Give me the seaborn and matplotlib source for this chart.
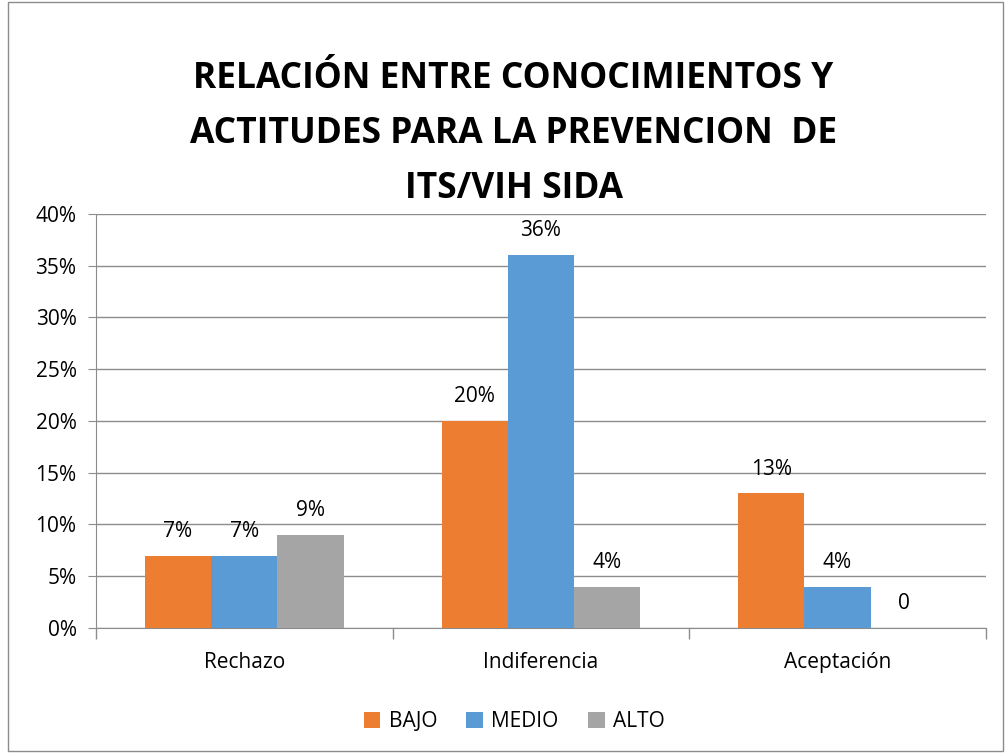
import matplotlib.pyplot as plt
import pandas as pd
import seaborn as sns
from matplotlib.patches import Rectangle
from matplotlib.ticker import FixedLocator

categories = ["Rechazo", "Indiferencia", "Aceptación"]
levels = ["BAJO", "MEDIO", "ALTO"]
bajo = [7, 20, 13]
medio = [7, 36, 4]
alto = [9, 4, 0]
bar_labels = {
    "BAJO": ["7%", "20%", "13%"],
    "MEDIO": ["7%", "36%", "4%"],
    "ALTO": ["9%", "4%", "0"],
}
colors = ["#ED7D31", "#5B9BD5", "#A5A5A5"]

df = pd.DataFrame({
    "categoria": categories * 3,
    "nivel": [l for l in levels for _ in categories],
    "valor": bajo + medio + alto,
})

sns.set_style("white")
plt.rcParams["font.family"] = ["Open Sans", "DejaVu Sans"]
plt.rcParams["text.color"] = "black"
plt.rcParams["xtick.color"] = "black"
plt.rcParams["ytick.color"] = "black"

fig = plt.figure(figsize=(10.07, 7.53), dpi=100)
ax = fig.add_axes([0.0953, 0.166, 0.979 - 0.0953, 0.716 - 0.166])

sns.barplot(data=df, x="categoria", y="valor", hue="nivel", order=categories,
            hue_order=levels, palette=colors, width=0.67, saturation=1,
            linewidth=0, ax=ax, zorder=3)

# value labels above each bar
for cont, lvl in zip(ax.containers, levels):
    ax.bar_label(cont, labels=bar_labels[lvl], padding=10, fontsize=15,
                 color="black")

ax.set_ylim(0, 40)
ax.set_xlim(-0.5, 2.5)
ax.set_yticks(range(0, 41, 5))
ax.set_yticklabels([f"{v}%" for v in range(0, 41, 5)], fontsize=15)
ax.yaxis.grid(True, color="#8c8c8c", linewidth=1)
ax.set_axisbelow(True)
ax.tick_params(axis="y", left=True, length=6, color="#8c8c8c", pad=8,
               labelcolor="black")
ax.tick_params(axis="x", which="major", length=0, labelsize=15, pad=17,
               labelcolor="black")
# category separators below the axis
ax.xaxis.set_minor_locator(FixedLocator([-0.5, 0.5, 1.5, 2.5]))
ax.tick_params(axis="x", which="minor", bottom=True, length=8,
               color="#8c8c8c", width=1)
ax.set_xlabel("")
ax.set_ylabel("")
sns.despine(ax=ax, top=True, right=True)
for side in ["left", "bottom"]:
    ax.spines[side].set_color("#8c8c8c")

ax.legend(loc="upper center", bbox_to_anchor=(0.47, -0.155), ncol=3,
          frameon=False, fontsize=15, handlelength=0.8, handleheight=0.8,
          columnspacing=1.4, handletextpad=0.4)

fig.text(0.51, 0.822, "RELACIÓN ENTRE CONOCIMIENTOS Y\nACTITUDES PARA LA PREVENCION  DE\nITS/VIH SIDA",
         ha="center", va="center", fontsize=25.5, fontweight="bold",
         linespacing=1.72, color="black")

fig.patches.append(Rectangle((0.008, 0.003), 0.988, 0.994, transform=fig.transFigure,
                             fill=False, edgecolor="#8c8c8c", linewidth=1))

fig.savefig("out.png", dpi=100)
